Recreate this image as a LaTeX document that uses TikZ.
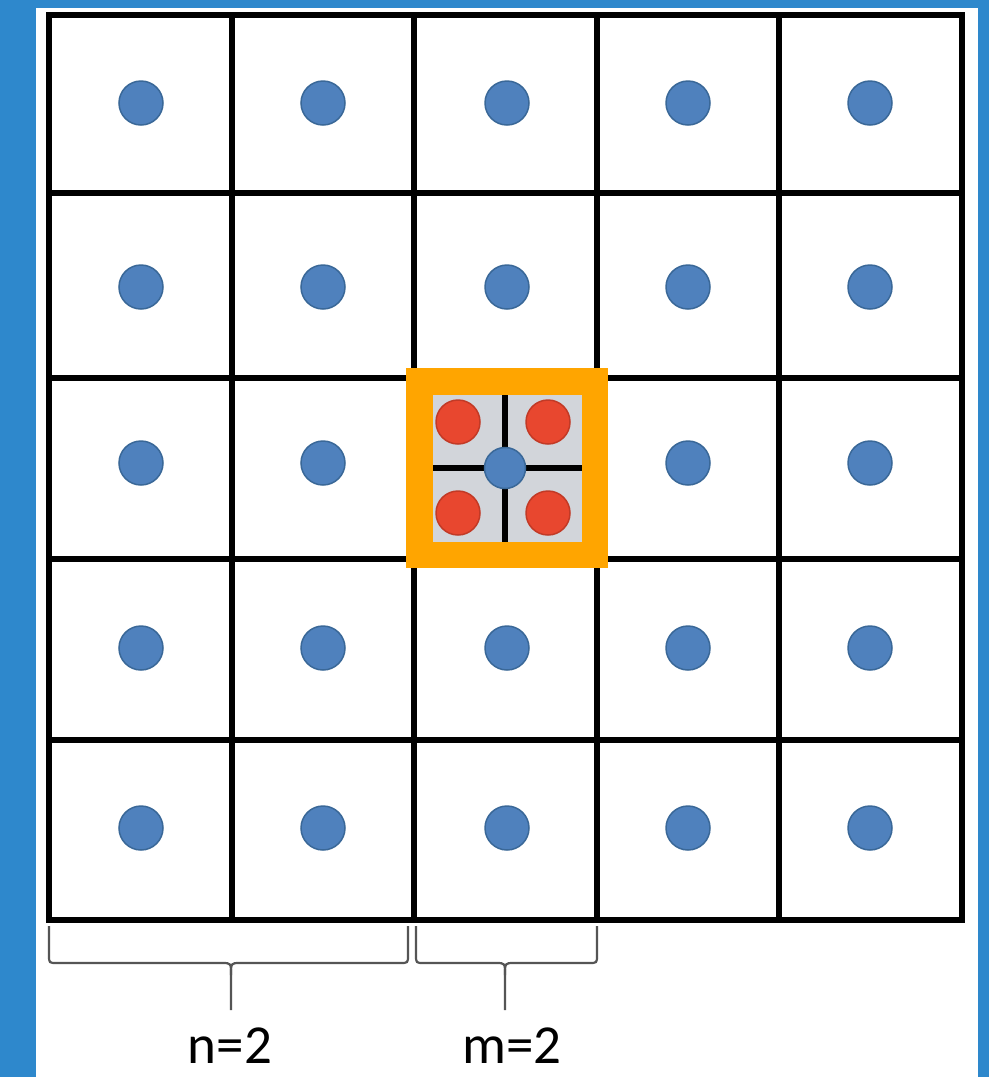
\documentclass[tikz,border=0pt]{standalone}
\usepackage{fontspec}
\setmainfont{Carlito}
\definecolor{bgblue}{HTML}{2E88CC}
\definecolor{dotblue}{HTML}{4F81BD}
\definecolor{dotblueline}{HTML}{3A6898}
\definecolor{dotred}{HTML}{E8472F}
\definecolor{dotredline}{HTML}{C23A26}
\definecolor{hlorange}{HTML}{FFA500}
\definecolor{hlgray}{HTML}{D2D5DA}
\definecolor{bracegray}{HTML}{555555}
\tikzset{
  bluedot/.style={circle,fill=dotblue,draw=dotblueline,line width=1.5pt,minimum size=44pt,inner sep=0pt},
  reddot/.style={circle,fill=dotred,draw=dotredline,line width=1.5pt,minimum size=44pt,inner sep=0pt},
  gridline/.style={line width=5.5pt,black},
  braceline/.style={line width=2.2pt,bracegray},
  lbl/.style={font=\fontsize{55}{58}\selectfont,text=black,inner sep=0pt}
}
\begin{document}
\begin{tikzpicture}[x=1pt,y=-1pt]
\useasboundingbox (0,0) rectangle (989,1077);
\fill[bgblue] (0,0) rectangle (989,1077);
\fill[white] (36,8) rectangle (978,1077);
% grid
\foreach \x in {49,232,414,597,779,962} \draw[gridline] (\x,15) -- (\x,920);
\foreach \y in {15,193,378,559,740,920} \draw[gridline] (49,\y) -- (962,\y);
\draw[line width=6.5pt] (49,15) rectangle (962,920);
% dots
\foreach \cx [count=\i] in {141,323,507,688,870} {
  \foreach \cy [count=\j] in {103,287,463,648,828} {
    \ifnum\i=3 \ifnum\j=3 \else
      \node[bluedot] (d\i\j) at (\cx,\cy) {};
    \fi\else
      \node[bluedot] (d\i\j) at (\cx,\cy) {};
    \fi
  }
}
% highlighted cell
\fill[hlorange] (406,368) rectangle (608,568);
\fill[hlgray] (433,395) rectangle (582,542);
\draw[line width=5.5pt] (505,395) -- (505,542);
\draw[line width=5.5pt] (433,468) -- (582,468);
\node[reddot] (r1) at (458,422) {};
\node[reddot] (r2) at (548,422) {};
\node[reddot] (r3) at (458,513) {};
\node[reddot] (r4) at (548,513) {};
\node[bluedot,minimum size=41pt] (d33) at (505,468) {};
% braces
\draw[braceline] (49,926) -- (49,955) .. controls (49,963) .. (57,963) -- (222,963)
  .. controls (231,963) .. (231,975) -- (231,1010);
\draw[braceline] (408,926) -- (408,955) .. controls (408,963) .. (400,963) -- (240,963)
  .. controls (231,963) .. (231,975);
\draw[braceline] (416,926) -- (416,955) .. controls (416,963) .. (424,963) -- (496,963)
  .. controls (505,963) .. (505,975) -- (505,1010);
\draw[braceline] (597,926) -- (597,955) .. controls (597,963) .. (589,963) -- (514,963)
  .. controls (505,963) .. (505,975);
\node[lbl,anchor=base] (n) at (230,1063) {n=2};
\node[lbl,anchor=base] (m) at (512,1063) {m=2};
\end{tikzpicture}
\end{document}
